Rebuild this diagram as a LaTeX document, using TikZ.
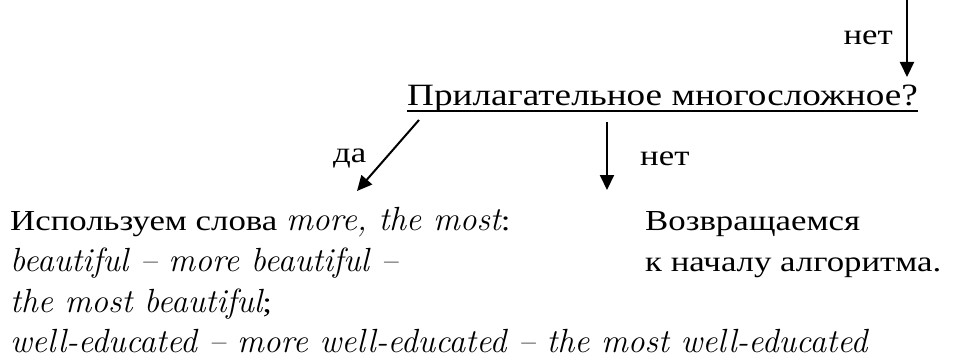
\documentclass[tikz,border=0pt]{standalone}
\usepackage{fontspec}
\newfontfamily\cyrfam[FakeStretch=1.2]{Liberation Serif}
\newcommand\rusf{\cyrfam\fontsize{29}{32}\selectfont}
\newcommand\titf{\cyrfam\fontsize{31}{34}\selectfont}
\newcommand\engf{\rmfamily\fontsize{33.5}{37}\selectfont\itshape}
\usetikzlibrary{arrows.meta,calc}
\begin{document}
\begin{tikzpicture}[x=1pt,y=-1pt,
  txt/.style={inner sep=0pt, anchor=base west, font=\rusf},
  arr/.style={line width=2pt, -{Triangle[width=14pt,length=15pt]}}]
\useasboundingbox[fill=white] (0,0) rectangle (953,361);
% title
\node[txt, font=\titf] (title) at (407,106) {Прилагательное многосложное?};
\draw[line width=1.6pt] ($(title.base west)+(0,5)$) -- ($(title.base east)+(0,5)$);
% top arrow
\node[txt, anchor=base east] (net1) at (893,45) {нет};
\coordinate (topS) at (907,0);
\coordinate (topE) at (907,77);
\draw[arr] (topS) -- (topE);
% yes arrow
\coordinate (daS) at (419,120);
\coordinate (daE) at (357,191);
\draw[arr] (daS) -- (daE);
\node[txt] (da) at (333,162) {да};
% no arrow
\coordinate (netS) at (607,122);
\coordinate (netE) at (607,190);
\draw[arr] (netS) -- (netE);
\node[txt] (net2) at (640,165) {нет};
% left block
\node[txt] (l1) at (10,230) {Используем слова {\engf more, the most}:};
\node[txt] (l2) at (10,271) {\engf beautiful – more beautiful –};
\node[txt] (l3) at (10,312) {{\engf the most beautiful};};
\node[txt] (l4) at (10,352) {\engf well-educated – more well-educated – the most well-educated};
% right block
\node[txt] (r1) at (645,230) {Возвращаемся};
\node[txt] (r2) at (645,271) {к началу алгоритма.};
\end{tikzpicture}
\end{document}
